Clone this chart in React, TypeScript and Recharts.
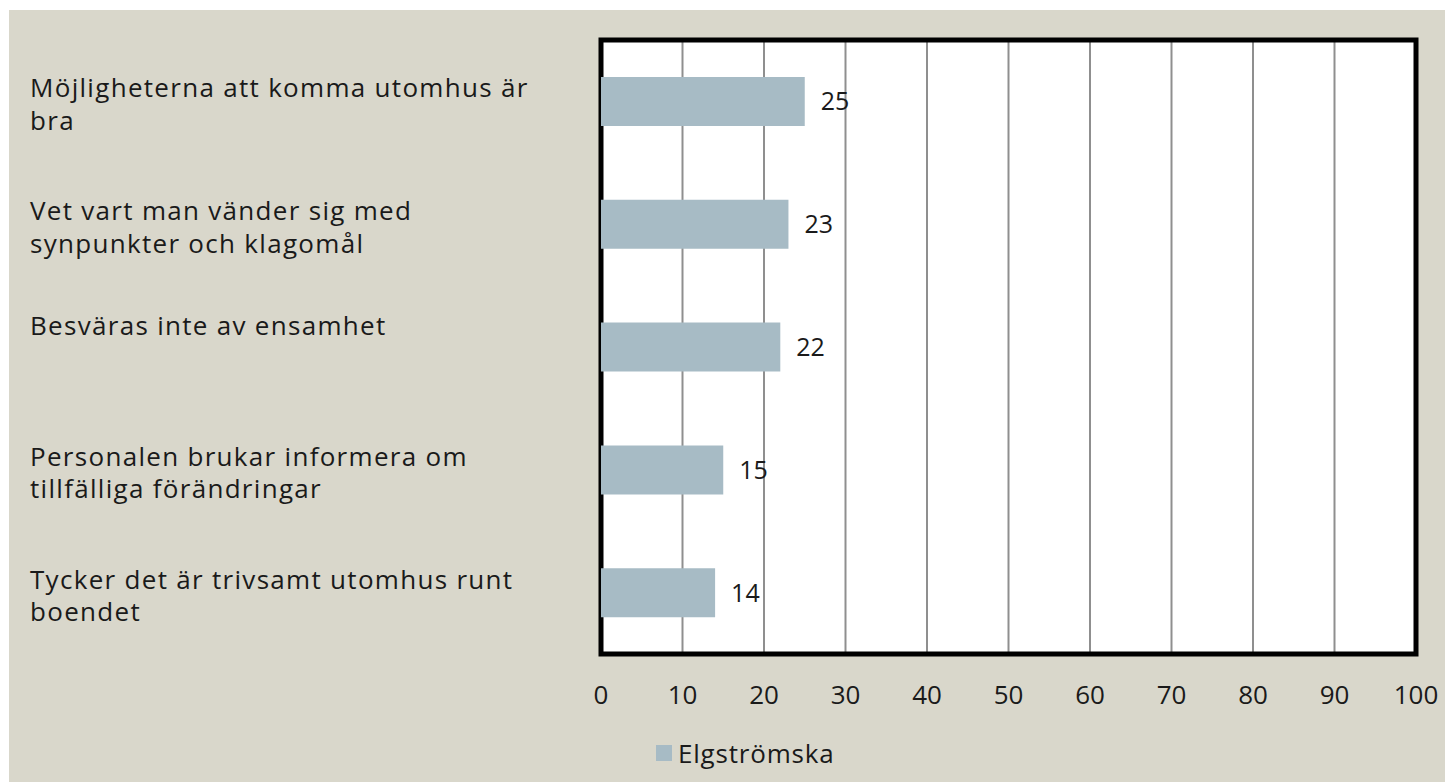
import { BarChart, Bar, XAxis, YAxis, CartesianGrid, ReferenceArea, LabelList } from "recharts";

const categories = [
  "Möjligheterna att komma utomhus är\nbra",
  "Vet vart man vänder sig med\nsynpunkter och klagomål",
  "Besväras inte av ensamhet",
  "Personalen brukar informera om\ntillfälliga förändringar",
  "Tycker det är trivsamt utomhus runt\nboendet",
];
const values = [25, 23, 22, 15, 14];
const xTicks = [0, 10, 20, 30, 40, 50, 60, 70, 80, 90, 100];
const seriesName = "Elgströmska";

const data = categories.map((name, i) => ({ name, value: values[i] }));

const FONT = "'Open Sans', sans-serif";
const BAR = "#a7bbc5";
const BG = "#d9d7cb";
const INK = "#1a1a1a";

function CategoryTick({ y, payload }: any) {
  const lines: string[] = String(payload.value).split("\n");
  // single-line labels sit a bit higher, like the original
  const top = lines.length === 1 ? y - 22 : y - 14;
  return (
    <text
      x={21}
      y={top}
      fontFamily={FONT}
      fontSize={26}
      letterSpacing={1.3}
      fill={INK}
      dominantBaseline="central"
    >
      {lines.map((l, i) => (
        <tspan key={i} x={21} dy={i === 0 ? 0 : 32.5}>
          {l}
        </tspan>
      ))}
    </text>
  );
}

function ValueTick({ x, y, payload }: any) {
  return (
    <text x={x} y={y + 38} textAnchor="middle" dominantBaseline="central" fontFamily={FONT} fontSize={26} fill={INK}>
      {payload.value}
    </text>
  );
}

export default function App() {
  return (
    <div style={{ position: "relative", width: 1444, height: 772, margin: "2px 0 0 1px", background: BG }}>
      <BarChart
        width={1444}
        height={772}
        data={data}
        layout="vertical"
        margin={{ top: 30, right: 37, bottom: 68, left: 0 }}
        barCategoryGap="30%"
      >
        <CartesianGrid horizontal={false} stroke="#8f8f8f" strokeWidth={2} fill="#ffffff" fillOpacity={1} />
        <XAxis
          type="number"
          domain={[0, 100]}
          ticks={xTicks}
          axisLine={false}
          tickLine={false}
          tickSize={0}
          height={60}
          tick={<ValueTick />}
          interval={0}
        />
        <YAxis
          type="category"
          dataKey="name"
          width={592}
          axisLine={false}
          tickLine={false}
          tickSize={0}
          tick={<CategoryTick />}
          interval={0}
        />
        <Bar dataKey="value" name={seriesName} fill={BAR} barSize={49} isAnimationActive={false}>
          <LabelList dataKey="value" position="right" offset={16} fill={INK} fontSize={25} fontFamily={FONT} />
        </Bar>
        <ReferenceArea x1={0} x2={100} fill="none" stroke="#000" strokeWidth={5} ifOverflow="visible" />
      </BarChart>
      <div
        style={{
          position: "absolute",
          left: 647,
          top: 725,
          display: "flex",
          alignItems: "center",
          fontFamily: FONT,
          fontSize: 26,
          letterSpacing: 0.8,
          color: INK,
        }}
      >
        <span style={{ width: 16, height: 16, background: BAR, marginRight: 6, display: "inline-block" }} />
        {seriesName}
      </div>
    </div>
  );
}
